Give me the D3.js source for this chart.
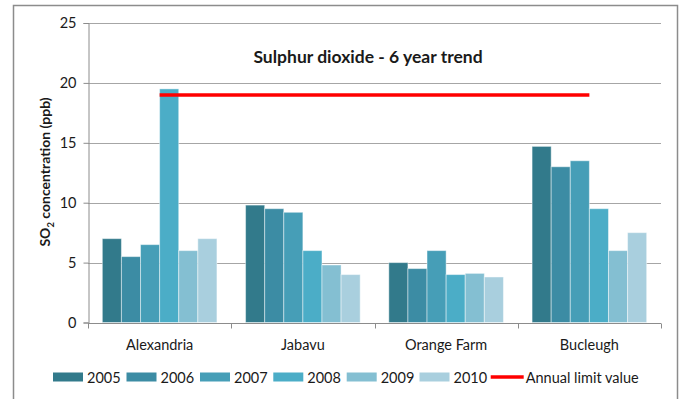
<!DOCTYPE html>
<html>
<head>
<meta charset="utf-8">
<script src="https://cdn.jsdelivr.net/npm/d3@7"></script>
<style>
  html, body { margin: 0; padding: 0; background: #fff; }
  svg { display: block; }
  text { font-family: Lato, "Open Sans", sans-serif; fill: #1a1a1a; }
</style>
</head>
<body>
<svg id="chart" width="683" height="399"></svg>
<script>
// Annual mean SO2 per monitoring station, 2005–2010 (ppb)
const stations = ["Alexandria", "Jabavu", "Orange Farm", "Bucleugh"];
const years = ["2005", "2006", "2007", "2008", "2009", "2010"];
const v2005 = [7.0, 9.8, 5.0, 14.7];
const v2006 = [5.5, 9.5, 4.5, 13.0];
const v2007 = [6.5, 9.2, 6.0, 13.5];
const v2008 = [19.5, 6.0, 4.0, 9.5];
const v2009 = [6.0, 4.8, 4.1, 6.0];
const v2010 = [7.0, 4.0, 3.8, 7.5];
const limitValue = 19;
const yTicks = [0, 5, 10, 15, 20, 25];
const yearColors = ["#327A8B", "#3C8CA4", "#469EB7", "#4BADC7", "#84BFD2", "#A9CFDE"];

const seriesByYear = [v2005, v2006, v2007, v2008, v2009, v2010];

const svg = d3.select("#chart");

// chart frame
svg.append("rect")
  .attr("x", 13.5).attr("y", 5.5)
  .attr("width", 664).attr("height", 420)
  .attr("fill", "none").attr("stroke", "#8c8c8c").attr("stroke-width", 1.5);

const plot = { left: 88, right: 661, top: 23, bottom: 322.5 };

const x0 = d3.scaleBand().domain(stations).range([plot.left, plot.right]).paddingInner(0).paddingOuter(0);
// gap width 150% of a bar on each category
const barW = x0.bandwidth() / (years.length + 1.5);
const x1 = d3.scaleBand().domain(years).range([0, barW * years.length]);
const groupOffset = (x0.bandwidth() - barW * years.length) / 2;

const y = d3.scaleLinear().domain([0, 25]).range([plot.bottom, plot.top]);

// horizontal gridlines
svg.append("g")
  .selectAll("line")
  .data(yTicks.filter(t => t > 0))
  .join("line")
  .attr("x1", plot.left).attr("x2", plot.right)
  .attr("y1", d => Math.round(y(d)) + 0.5).attr("y2", d => Math.round(y(d)) + 0.5)
  .attr("stroke", "#a6a6a6").attr("stroke-width", 1);

// y axis
const yAxis = svg.append("g")
  .attr("transform", `translate(${plot.left + 0.5},0)`)
  .call(d3.axisLeft(y).tickValues(yTicks).tickSize(5).tickPadding(7));
yAxis.select(".domain").attr("stroke", "#8c8c8c");
yAxis.selectAll(".tick line").attr("stroke", "#8c8c8c");
yAxis.selectAll(".tick text").style("font-size", "14.5px").style("font-family", "Lato, sans-serif").attr("fill", "#1a1a1a");

// bars
const groups = svg.append("g")
  .selectAll("g")
  .data(stations)
  .join("g")
  .attr("transform", d => `translate(${x0(d) + groupOffset},0)`);

groups.selectAll("rect")
  .data((s, i) => years.map((yr, j) => ({ year: yr, value: seriesByYear[j][i], color: yearColors[j] })))
  .join("rect")
  .attr("x", d => x1(d.year))
  .attr("width", x1.bandwidth())
  .attr("y", d => y(d.value))
  .attr("height", d => y(0) - y(d.value))
  .attr("fill", d => d.color)
  .attr("stroke", "rgba(255,255,255,0.45)")
  .attr("stroke-width", 1);

// x axis
const xAxisG = svg.append("g").attr("transform", `translate(0,${Math.round(plot.bottom) + 0.5})`);
xAxisG.append("line")
  .attr("x1", plot.left).attr("x2", plot.right)
  .attr("stroke", "#8c8c8c");
xAxisG.selectAll("line.tk")
  .data(stations.map(s => x0(s)).concat([plot.right]))
  .join("line").attr("class", "tk")
  .attr("x1", d => Math.round(d) + 0.5).attr("x2", d => Math.round(d) + 0.5)
  .attr("y1", 0).attr("y2", 5)
  .attr("stroke", "#8c8c8c");
xAxisG.selectAll("text")
  .data(stations)
  .join("text")
  .attr("x", d => x0(d) + x0.bandwidth() / 2)
  .attr("y", 26)
  .attr("text-anchor", "middle")
  .style("font-size", "14.5px")
  .text(d => d);

// annual limit line, from first to last station centre
svg.append("line")
  .attr("x1", x0(stations[0]) + x0.bandwidth() / 2)
  .attr("x2", x0(stations[stations.length - 1]) + x0.bandwidth() / 2)
  .attr("y1", y(limitValue)).attr("y2", y(limitValue))
  .attr("stroke", "#ff0000").attr("stroke-width", 3.5);

// title
svg.append("text")
  .attr("x", 368).attr("y", 63)
  .attr("text-anchor", "middle")
  .style("font-size", "17.5px").style("font-weight", "bold")
  .text("Sulphur dioxide - 6 year trend");

// y axis title with subscript
const yTitle = svg.append("text")
  .attr("transform", `translate(50,172) rotate(-90)`)
  .attr("text-anchor", "middle")
  .style("font-size", "14px").style("font-weight", "bold");
yTitle.append("tspan").text("SO");
yTitle.append("tspan").attr("dy", 4).style("font-size", "9.5px").text("2");
yTitle.append("tspan").attr("dy", -4).text(" concentration (ppb)");

// legend
const legend = svg.append("g");
const legendY = 377;
const legendItems = years.map((yr, j) => ({ label: yr, color: yearColors[j], type: "bar" }))
  .concat([{ label: "Annual limit value", color: "#ff0000", type: "line" }]);
const legendX = [53, 126.5, 200, 273.3, 346.7, 419.5, 490.7];
legendItems.forEach((it, i) => {
  const g = legend.append("g").attr("transform", `translate(${legendX[i]},${legendY})`);
  if (it.type === "bar") {
    g.append("rect").attr("x", 0).attr("y", -4.5).attr("width", 30).attr("height", 9).attr("fill", it.color);
  } else {
    g.append("line").attr("x1", 0).attr("x2", 33).attr("y1", 0).attr("y2", 0)
      .attr("stroke", it.color).attr("stroke-width", 3.5);
  }
  g.append("text")
    .attr("x", it.type === "bar" ? 34 : 35)
    .attr("y", 5.5)
    .style("font-size", "14.5px")
    .text(it.label);
});
</script>
</body>
</html>
